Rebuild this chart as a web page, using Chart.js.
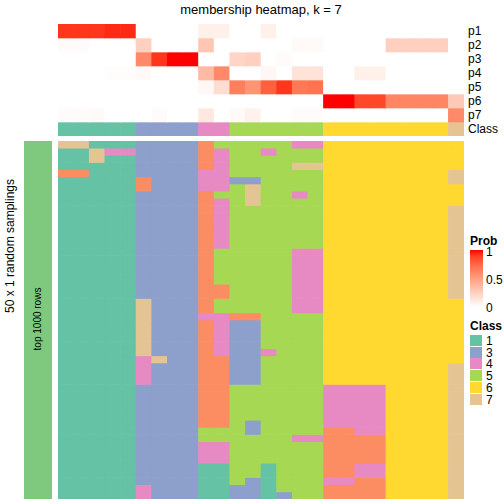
<!DOCTYPE html>
<html>
<head>
<meta charset="utf-8">
<script src="https://cdn.jsdelivr.net/npm/chart.js@4.4.1/dist/chart.umd.min.js"></script>
<style>
  html, body { margin: 0; padding: 0; background: #fff; }
  #page { position: relative; width: 504px; height: 504px; overflow: hidden;
          font-family: "Liberation Sans", Arial, sans-serif; color: #000; }
  .abs { position: absolute; }
  .rowlab { position: absolute; left: 468px; font-size: 12px; line-height: 14px; height: 14px; }
  .leglab { position: absolute; left: 486px; font-size: 12px; line-height: 12px; }
</style>
</head>
<body>
<div id="page">
  <div class="abs" style="left:58px;top:2px;width:406px;text-align:center;font-size:13px;line-height:16px;">membership heatmap, k = 7</div>
  <canvas id="annoChart" class="abs" style="left:58px;top:24px;" width="406" height="112"></canvas>
  <canvas id="mainChart" class="abs" style="left:58px;top:141px;" width="406" height="358"></canvas>
  <div class="abs" style="left:24px;top:141px;width:28px;height:358px;background:#7FC97F;"></div>
  <div class="abs" style="left:-52px;top:312px;width:180px;text-align:center;font-size:10px;line-height:14px;transform:rotate(-90deg);">top 1000 rows</div>
  <div class="abs" style="left:-90px;top:238px;width:200px;text-align:center;font-size:12px;line-height:16px;transform:rotate(-90deg);">50 x 1 random samplings</div>
  <div id="labels"></div>
  <div id="legend"></div>
</div>
<script>
// 26 samples (columns), 50 random samplings (rows)
const samples = Array.from({length: 26}, (_, i) => 'sample' + (i + 1));

// membership probabilities, one array per class
const p1 = [0.92,0.92,0.92,0.95,0.95, 0,0,0,0, 0.08,0.08, 0,0,0.08,0,0,0, 0,0,0,0,0,0,0,0, 0];
const p2 = [0.02,0.02,0,0,0, 0.25,0,0,0, 0.3,0, 0,0,0,0,0.03,0.03, 0,0,0,0,0.25,0.25,0.25,0.25, 0];
const p3 = [0,0,0,0,0, 0.6,0.92,1,1, 0,0, 0.22,0.25,0,0.02,0,0, 0,0,0,0,0,0,0,0, 0];
const p4 = [0,0,0,0.01,0.01, 0.03,0,0,0, 0.36,0.6, 0,0,0.04,0,0.15,0.15, 0,0,0.08,0.08,0,0,0,0, 0];
const p5 = [0,0,0,0,0, 0,0,0,0, 0.04,0.18, 0.65,0.55,0.78,0.92,0.68,0.7, 0,0,0,0,0,0,0,0, 0];
const p6 = [0,0,0,0,0, 0,0,0,0, 0,0, 0,0,0,0,0,0, 1,1,0.87,0.87,0.62,0.62,0.62,0.62, 0.28];
const p7 = [0.02,0.02,0.03,0,0, 0,0.02,0,0, 0.12,0, 0.03,0.07,0,0,0.02,0.02, 0,0,0,0,0,0,0,0, 0.6];
const probRows = [p1, p2, p3, p4, p5, p6, p7];
const probNames = ['p1', 'p2', 'p3', 'p4', 'p5', 'p6', 'p7'];

// consensus class per sample
const sampleClass = '11111 3333 4 4 5555 55 66666666 7';

// class of each sample in each of the 50 samplings (top row first)
const samplingClasses = [
  '77111 3333 2 5 5555 44 66666666 6',
  '11744 3333 2 4 5545 55 66666666 6',
  '11711 3333 2 4 5555 55 66666666 6',
  '11111 3333 2 4 5555 77 66666666 6',
  '22111 3333 4 4 5555 55 66666666 7',
  '11111 2333 4 4 3355 55 66666666 7',
  '11111 2333 4 4 5755 55 66666666 6',
  '11111 3333 2 5 5755 45 66666666 6',
  '11111 3333 2 4 5755 55 66666666 6',
  '11111 3333 2 4 5555 55 66666666 7',
  '11111 3333 2 4 5555 55 66666666 7',
  '11111 3333 2 4 5555 55 66666666 7',
  '11111 3333 2 4 5555 55 66666666 7',
  '11111 3333 2 4 5555 55 66666666 7',
  '11111 3333 2 4 5555 55 66666666 7',
  '11111 3333 2 5 5555 44 66666666 7',
  '11111 3333 2 5 5555 44 66666666 7',
  '11111 3333 2 5 5555 44 66666666 7',
  '11111 3333 2 5 5555 44 66666666 7',
  '11111 3333 2 5 5555 44 66666666 7',
  '11111 3333 2 2 5555 44 66666666 7',
  '11111 3333 2 2 5555 44 66666666 7',
  '11111 7333 2 5 5555 44 66666666 6',
  '11111 7333 2 5 5555 44 66666666 6',
  '11111 7333 4 4 2255 55 66666666 6',
  '11111 7333 2 4 3355 55 66666666 6',
  '11111 7333 2 4 3355 55 66666666 6',
  '11111 7333 2 4 3355 55 66666666 6',
  '11111 7333 2 4 3355 55 66666666 6',
  '11111 7333 2 4 3345 55 66666666 6',
  '11111 4733 2 2 3355 55 66666666 6',
  '11111 4333 2 2 3355 55 66666666 7',
  '11111 4333 2 2 3355 55 66666666 7',
  '11111 4333 2 2 3355 55 66666666 7',
  '11111 3333 2 2 5555 55 44446666 7',
  '11111 3333 2 2 5555 55 44446666 7',
  '11111 3333 2 2 5555 55 44446666 7',
  '11111 3333 2 2 5555 55 44446666 7',
  '11111 3333 2 2 5555 55 44446666 7',
  '11111 3333 2 2 5355 55 44446666 7',
  '11111 3333 5 5 5355 55 22446666 7',
  '11111 3333 5 5 5555 44 22226666 7',
  '11111 3333 4 4 5555 55 22226666 7',
  '11111 3333 4 4 5555 55 22226666 7',
  '11111 3333 4 4 5555 55 22226666 7',
  '11111 3333 1 1 5515 55 22446666 7',
  '11111 3333 1 1 5515 55 22446666 7',
  '11111 3333 1 1 5315 55 44226666 7',
  '11111 4333 1 1 3315 55 22226666 7',
  '11111 4333 1 1 3313 55 22226666 7'
];

const legendClasses = ['1', '3', '4', '5', '6', '7'];
const probTicks = ['1', '0.5', '0'];

const classColors = {
  '1': '#66C2A5', '2': '#FC8D62', '3': '#8DA0CB', '4': '#E78AC3',
  '5': '#A6D854', '6': '#FFD92F', '7': '#E5C494'
};

// white -> red ramp interpolated in LAB space
function labToHex(L, a, b) {
  const fy = (L + 16) / 116, fx = fy + a / 500, fz = fy - b / 200;
  const finv = t => t * t * t > 0.008856 ? t * t * t : (t - 16 / 116) / 7.787;
  const X = 0.95047 * finv(fx), Y = finv(fy), Z = 1.08883 * finv(fz);
  let rgb = [
    3.2406 * X - 1.5372 * Y - 0.4986 * Z,
    -0.9689 * X + 1.8758 * Y + 0.0415 * Z,
    0.0557 * X - 0.2040 * Y + 1.0570 * Z
  ];
  rgb = rgb.map(c => {
    c = c <= 0.0031308 ? 12.92 * c : 1.055 * Math.pow(c, 1 / 2.4) - 0.055;
    return Math.max(0, Math.min(255, Math.round(c * 255)));
  });
  return '#' + rgb.map(c => c.toString(16).padStart(2, '0')).join('');
}
function probColor(p) {
  return labToHex(100 + (53.24 - 100) * p, 80.09 * p, 67.20 * p);
}

const clean = s => s.replace(/ /g, '').split('');

function heatOptions(rows) {
  return {
    responsive: false,
    animation: false,
    layout: { padding: 0 },
    plugins: { legend: { display: false }, tooltip: { enabled: false } },
    scales: {
      x: { stacked: true, display: false },
      y: { stacked: true, display: false, min: 0, max: rows, reverse: true }
    }
  };
}

function cellDataset(colors) {
  return {
    data: colors.map(() => 1),
    backgroundColor: colors,
    borderWidth: 0,
    barPercentage: 1,
    categoryPercentage: 1
  };
}

// top annotation: p1..p7 + class
const annoSets = probRows.map(r => cellDataset(r.map(probColor)));
annoSets.push(cellDataset(clean(sampleClass).map(c => classColors[c])));
new Chart(document.getElementById('annoChart'), {
  type: 'bar',
  data: { labels: samples, datasets: annoSets },
  options: heatOptions(annoSets.length)
});

// main heatmap
const mainSets = samplingClasses.map(r => cellDataset(clean(r).map(c => classColors[c])));
new Chart(document.getElementById('mainChart'), {
  type: 'bar',
  data: { labels: samples, datasets: mainSets },
  options: heatOptions(mainSets.length)
});

// row labels for annotation
const labels = document.getElementById('labels');
probNames.concat(['Class']).forEach((name, i) => {
  const d = document.createElement('div');
  d.className = 'rowlab';
  d.style.top = (24 + i * 14) + 'px';
  d.textContent = name;
  labels.appendChild(d);
});

// legends
const legend = document.getElementById('legend');
let html = '<div class="abs" style="left:470px;top:234px;font-size:12px;font-weight:bold;">Prob</div>';
const stops = [];
for (let i = 0; i <= 10; i++) stops.push(probColor(1 - i / 10) + ' ' + (i * 10) + '%');
html += '<div class="abs" style="left:470px;top:250px;width:13px;height:57px;background:linear-gradient(' + stops.join(',') + ');"></div>';
probTicks.forEach((t, i) => {
  html += '<div class="leglab" style="top:' + (246 + i * 28) + 'px;">' + t + '</div>';
});
html += '<div class="abs" style="left:470px;top:319px;font-size:12px;font-weight:bold;">Class</div>';
legendClasses.forEach((c, i) => {
  const y = 335 + i * 11.7;
  html += '<div class="abs" style="left:470px;top:' + y + 'px;width:12px;height:11px;background:' + classColors[c] + ';"></div>';
  html += '<div class="leglab" style="top:' + (y) + 'px;">' + c + '</div>';
});
legend.innerHTML = html;
</script>
</body>
</html>
